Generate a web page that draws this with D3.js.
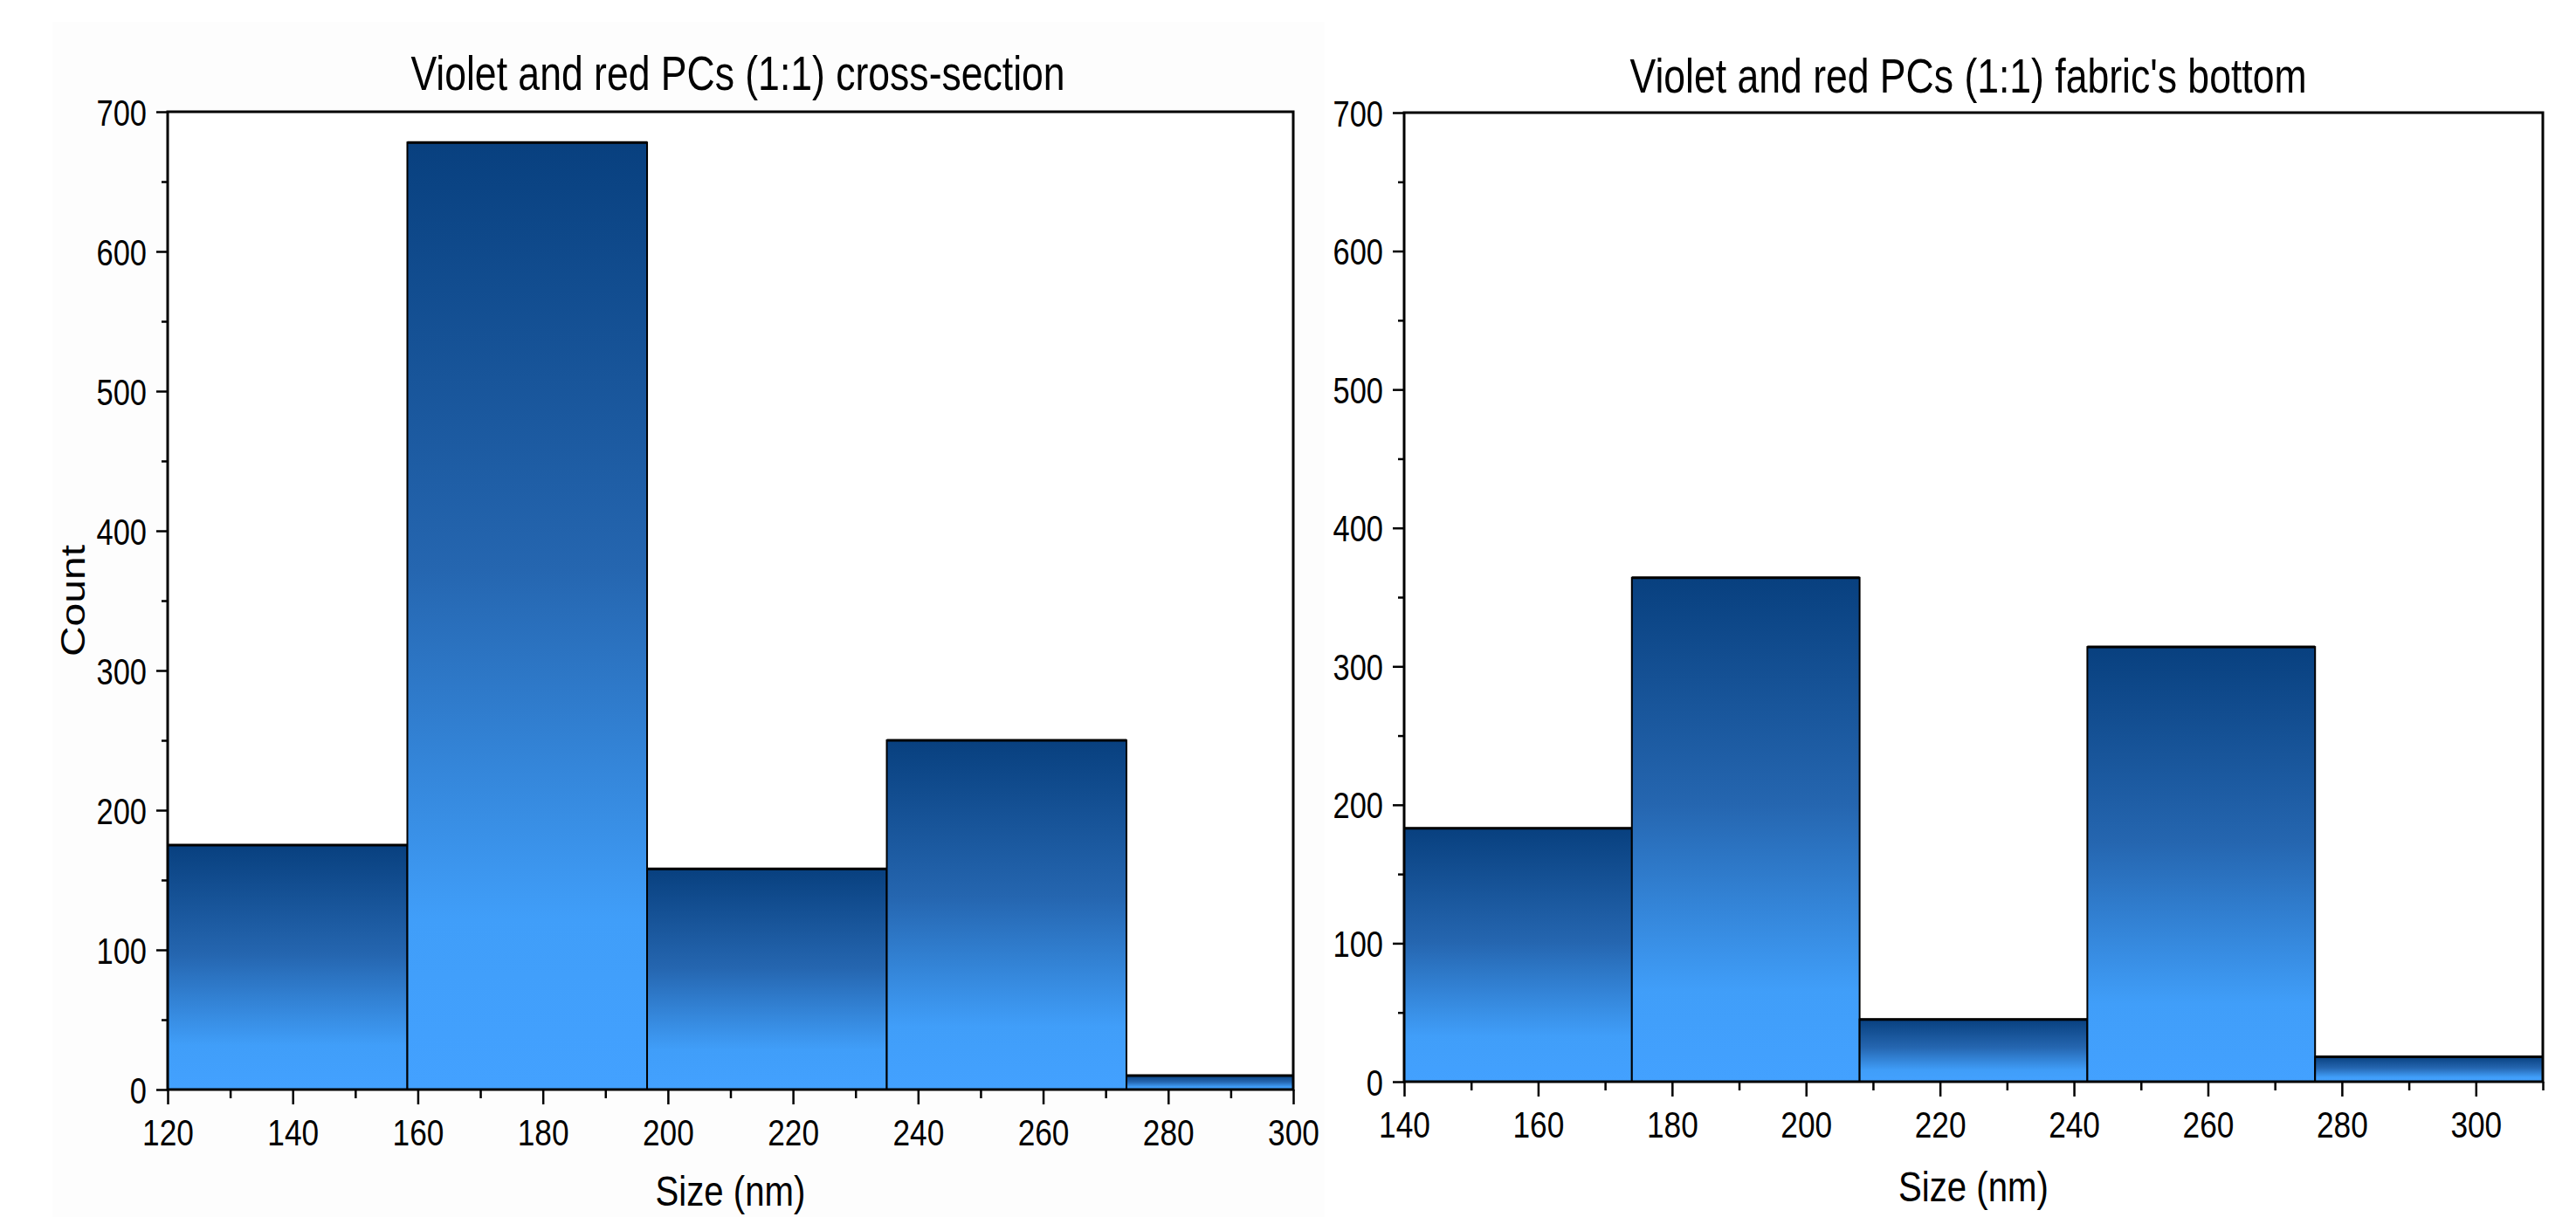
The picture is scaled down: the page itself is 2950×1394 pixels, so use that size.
<!DOCTYPE html>
<html>
<head>
<meta charset="utf-8">
<script src="https://cdn.jsdelivr.net/npm/d3@7"></script>
<style>
  html, body { margin: 0; padding: 0; background: #ffffff; }
  svg { display: block; }
  text { font-family: "Liberation Sans", Arial, sans-serif; fill: #000; }
</style>
</head>
<body>
<svg id="chart" width="2950" height="1394"></svg>
<script>
// ---------- data ----------
const leftTitle = "Violet and red PCs (1:1) cross-section";
const rightTitle = "Violet and red PCs (1:1) fabric's bottom";
const xLabel = "Size (nm)";
const yLabel = "Count";

const leftBinEdges = [120, 158.33, 196.67, 235, 273.33, 311.67];
const leftCounts = [175, 678, 158, 250, 10];
const leftXTicks = [120, 140, 160, 180, 200, 220, 240, 260, 280, 300];

const rightBinEdges = [140, 174, 208, 242, 276, 310];
const rightCounts = [183, 364, 45, 314, 18];
const rightXTicks = [140, 160, 180, 200, 220, 240, 260, 280, 300];

const yTicks = [0, 100, 200, 300, 400, 500, 600, 700];

// ---------- drawing ----------
const svg = d3.select("#chart");
const SX = 0.82; // horizontal squeeze of the lettering

// very faint panel background of the left panel
svg.append("rect").attr("x", 60).attr("y", 25).attr("width", 1457).attr("height", 1369).attr("fill", "#fdfdfd");

const defs = svg.append("defs");
const grad = defs.append("linearGradient").attr("id", "barGrad")
  .attr("x1", 0).attr("y1", 0).attr("x2", 0).attr("y2", 1);
grad.append("stop").attr("offset", "0%").attr("stop-color", "#08407f");
grad.append("stop").attr("offset", "45%").attr("stop-color", "#2566b0");
grad.append("stop").attr("offset", "82%").attr("stop-color", "#409ef9");
grad.append("stop").attr("offset", "100%").attr("stop-color", "#43a1ff");

function squeeze(sel, s) {
  sel.each(function() {
    const t = d3.select(this);
    const x = +t.attr("x") || 0;
    t.attr("transform", `translate(${x},0) scale(${s},1) translate(${-x},0)`);
  });
}

function panel(cfg) {
  const { id, left, right, top, bottom, xDomain, edges, counts, xTicks, minorStep, title, titleX, titleY, xLabelY, showY } = cfg;
  const x = d3.scaleLinear().domain(xDomain).range([left, right]);
  const y = d3.scaleLinear().domain([0, 700]).range([bottom, top]);

  defs.append("clipPath").attr("id", "clip" + id)
    .append("rect").attr("x", left).attr("y", top - 5).attr("width", right - left).attr("height", bottom - top + 5);

  const bins = counts.map((c, i) => ({ x0: edges[i], x1: edges[i + 1], c }));

  const g = svg.append("g");
  g.append("rect").attr("x", left).attr("y", top).attr("width", right - left).attr("height", bottom - top).attr("fill", "#ffffff");

  g.append("g").attr("clip-path", `url(#clip${id})`)
    .selectAll("rect.bar").data(bins).join("rect")
    .attr("class", "bar")
    .attr("x", d => x(d.x0))
    .attr("y", d => y(d.c))
    .attr("width", d => x(d.x1) - x(d.x0))
    .attr("height", d => y(0) - y(d.c))
    .attr("fill", "url(#barGrad)")
    .attr("stroke", "#000")
    .attr("stroke-width", 2);

  // top edges of bars slightly heavier
  g.append("g").attr("clip-path", `url(#clip${id})`)
    .selectAll("line.topedge").data(bins).join("line")
    .attr("x1", d => x(d.x0)).attr("x2", d => x(d.x1))
    .attr("y1", d => y(d.c)).attr("y2", d => y(d.c))
    .attr("stroke", "#000").attr("stroke-width", 3);

  // minor ticks
  const minorX = d3.range(xDomain[0], xDomain[1] + 0.001, minorStep).filter(v => !xTicks.includes(v));
  g.append("g").attr("transform", `translate(0,${bottom})`)
    .call(d3.axisBottom(x).tickValues(minorX).tickSize(10).tickFormat(""))
    .call(a => a.select(".domain").remove())
    .call(a => a.selectAll("line").attr("stroke-width", 2.5));
  const xa = g.append("g").attr("transform", `translate(0,${bottom})`)
    .call(d3.axisBottom(x).tickValues(xTicks).tickSize(17).tickFormat(d3.format("d")))
    .call(a => a.select(".domain").remove())
    .call(a => a.selectAll("line").attr("stroke-width", 2.5));
  xa.selectAll("text").attr("y", 64).attr("dy", 0)
    .style("font-size", "43px").attr("fill", "#000")
    .style("font-family", "'Liberation Sans', Arial, sans-serif");
  squeeze(xa.selectAll("text"), SX);

  const minorY = d3.range(50, 700, 100);
  g.append("g").attr("transform", `translate(${left},0)`)
    .call(d3.axisLeft(y).tickValues(minorY).tickSize(7).tickFormat(""))
    .call(a => a.select(".domain").remove())
    .call(a => a.selectAll("line").attr("stroke-width", 2.5));
  const ya = g.append("g").attr("transform", `translate(${left},0)`)
    .call(d3.axisLeft(y).tickValues(yTicks).tickSize(13).tickFormat(d3.format("d")))
    .call(a => a.select(".domain").remove())
    .call(a => a.selectAll("line").attr("stroke-width", 2.5));
  ya.selectAll("text").attr("x", -24).attr("dy", "0.36em")
    .style("font-size", "42px").attr("fill", "#000")
    .style("font-family", "'Liberation Sans', Arial, sans-serif");
  squeeze(ya.selectAll("text"), SX);

  // frame
  g.append("rect").attr("x", left).attr("y", top).attr("width", right - left).attr("height", bottom - top)
    .attr("fill", "none").attr("stroke", "#000").attr("stroke-width", 3);

  // title
  const t = g.append("text").attr("x", titleX).attr("y", titleY).attr("text-anchor", "middle")
    .style("font-size", "55px").text(title);
  squeeze(t, 0.81);

  // x label
  const xl = g.append("text").attr("x", (left + right) / 2).attr("y", xLabelY).attr("text-anchor", "middle")
    .style("font-size", "49px").text(xLabel);
  squeeze(xl, SX);

  if (showY) {
    g.append("text")
      .attr("transform", `translate(97,${(top + bottom) / 2}) rotate(-90) scale(1,${SX})`)
      .attr("text-anchor", "middle")
      .style("font-size", "48px").text(yLabel);
  }
}

panel({ id: "L", left: 192, right: 1481, top: 128, bottom: 1248, xDomain: [120, 300],
  edges: leftBinEdges, counts: leftCounts, xTicks: leftXTicks, minorStep: 10,
  title: leftTitle, titleX: 845, titleY: 103, xLabelY: 1381, showY: true });

panel({ id: "R", left: 1608, right: 2912, top: 129, bottom: 1239, xDomain: [140, 310],
  edges: rightBinEdges, counts: rightCounts, xTicks: rightXTicks, minorStep: 10,
  title: rightTitle, titleX: 2254, titleY: 106, xLabelY: 1376, showY: false });
</script>
</body>
</html>
